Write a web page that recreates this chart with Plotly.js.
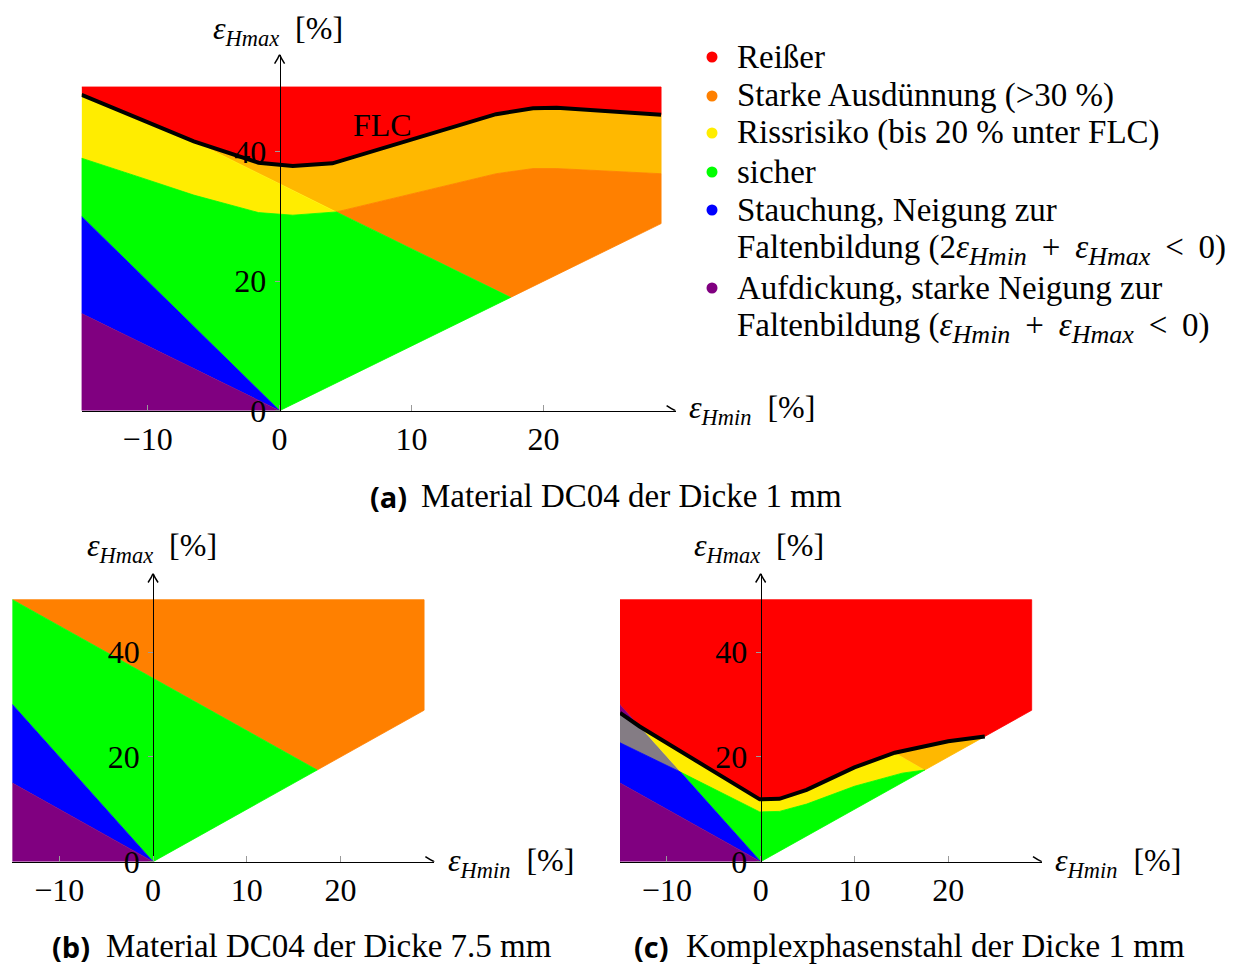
<!DOCTYPE html>
<html>
<head>
<meta charset="utf-8">
<script src="https://cdn.plot.ly/plotly-3.0.1.min.js"></script>
<style>
  html, body { margin: 0; padding: 0; background: #fff; }
  #chart { width: 1242px; height: 965px; }
</style>
</head>
<body>
<div id="chart"></div>
<script>
// ---------------- data (strains in %) ----------------
// common limits of the drawn regions
const regionXMin = -15;
const regionXMax = 28.9;
const regionYTop = 50;
const thinCorner = [17.5, 17.5];       // thinning line (>30 %) meets eps_max = eps_min

// (a) Material DC04, 1 mm
const flcA_x = [-15, -10.2, -6.5, -1.6, 1, 4, 16.4, 19.2, 21, 28.9];
const flcA_y = [48.8, 44.8, 41.6, 38.3, 37.8, 38.2, 45.8, 46.7, 46.8, 45.7];
const lowA_x = [-15, -10.2, -6.5, -1.6, 1, 4.3, 16.4, 19.2, 21, 28.9];   // 20 % below FLC
const lowA_y = [39.0, 35.8, 33.3, 30.6, 30.2, 30.7, 36.6, 37.4, 37.4, 36.6];
const blueTopA = 30;      // 2*emin + emax = 0 at x = -15
const purpleTopA = 15;    // emin + emax = 0 at x = -15

// (b) Material DC04, 7.5 mm
const greenTopLeftB = 50;
const blueTopB = 30;
const purpleTopB = 15;

// (c) Komplexphasenstahl, 1 mm
const flcC_x = [-15, -12.9, -0.1, 2, 4.9, 10, 14.3, 15.1, 20, 23.9];
const flcC_y = [28.4, 25.8, 11.9, 12.0, 13.7, 18.0, 20.8, 21.1, 23.0, 23.9];
const lowC_x = [-15, -8.55, -0.1, 2, 4.9, 10, 15.1, 17.5];
const lowC_y = [22.7, 17.1, 9.5, 9.6, 11.0, 14.4, 16.9, 17.5];
const blueLineTopC = 30;
const purpleTopC = 15;

// axis extents and tick labels
const axisXEnd = 30;
const axisYEnd = 55;
const xTickVals = [-10, 0, 10, 20];
const yTickVals = [0, 20, 40];

// legend
const SUB = s => '<sub><span style="font-size:26px"><i>' + s + '</i></span></sub>';
const GAP = ' \u2009';
const legendLabels = [
  'Reißer',
  'Starke Ausdünnung (&gt;30 %)',
  'Rissrisiko (bis 20 % unter FLC)',
  'sicher',
  'Stauchung, Neigung zur',
  'Faltenbildung (2<i>ε</i>' + SUB('Hmin') + GAP + '+' + GAP + '<i>ε</i>' + SUB('Hmax') + GAP + '&lt;' + GAP + '0)',
  'Aufdickung, starke Neigung zur',
  'Faltenbildung (<i>ε</i>' + SUB('Hmin') + GAP + '+' + GAP + '<i>ε</i>' + SUB('Hmax') + GAP + '&lt;' + GAP + '0)'
];
const captions = [
  ['(a)', 'Material DC04 der Dicke 1 mm'],
  ['(b)', 'Material DC04 der Dicke 7.5 mm'],
  ['(c)', 'Komplexphasenstahl der Dicke 1 mm']
];

// ---------------- colours ----------------
const C = {
  red: '#FF0000', orange: '#FF8000', gold: '#FFB800', yellow: '#FFED00',
  green: '#00FF00', blue: '#0000FF', purple: '#800080', gray: '#847C84'
};

// ---------------- helpers ----------------
const W = 1242, H = 965;
const SERIF = 'Liberation Serif, DejaVu Serif, serif';
const FS = 32;
const FS_TXT = 33;
const rev = a => a.slice().reverse();
const px = p => p / W;
const py = p => 1 - p / H;

function poly(xs, ys, color, ax) {
  return {
    type: 'scatter', x: xs, y: ys, xaxis: 'x' + ax, yaxis: 'y' + ax,
    mode: 'lines', fill: 'toself', fillcolor: color,
    line: { color: color, width: 0.8 }, hoverinfo: 'skip', showlegend: false
  };
}

const traces = [];

// ---- (a)
traces.push(poly([regionXMin, regionXMax].concat(rev(flcA_x)),
                 [regionYTop, regionYTop].concat(rev(flcA_y)), C.red, ''));
traces.push(poly(flcA_x.slice(2).concat(rev(lowA_x.slice(5))),
                 flcA_y.slice(2).concat(rev(lowA_y.slice(5))), C.gold, ''));
traces.push(poly(flcA_x.slice(0, 3).concat(rev(lowA_x.slice(0, 6))),
                 flcA_y.slice(0, 3).concat(rev(lowA_y.slice(0, 6))), C.yellow, ''));
traces.push(poly(lowA_x.slice(5).concat([regionXMax, thinCorner[0]]),
                 lowA_y.slice(5).concat([regionXMax, thinCorner[1]]), C.orange, ''));
traces.push(poly([regionXMin].concat(lowA_x.slice(0, 6), [thinCorner[0], 0]),
                 [blueTopA].concat(lowA_y.slice(0, 6), [thinCorner[1], 0]), C.green, ''));
traces.push(poly([regionXMin, regionXMin, 0], [purpleTopA, blueTopA, 0], C.blue, ''));
traces.push(poly([regionXMin, regionXMin, 0], [0, purpleTopA, 0], C.purple, ''));
traces.push({ type: 'scatter', x: flcA_x, y: flcA_y, xaxis: 'x', yaxis: 'y', mode: 'lines',
  line: { color: '#000', width: 4 }, hoverinfo: 'skip', showlegend: false });

// ---- (b)
traces.push(poly([regionXMin, regionXMax, regionXMax, thinCorner[0]],
                 [regionYTop, regionYTop, regionXMax, thinCorner[1]], C.orange, '2'));
traces.push(poly([regionXMin, regionXMin, thinCorner[0], 0],
                 [blueTopB, greenTopLeftB, thinCorner[1], 0], C.green, '2'));
traces.push(poly([regionXMin, regionXMin, 0], [purpleTopB, blueTopB, 0], C.blue, '2'));
traces.push(poly([regionXMin, regionXMin, 0], [0, purpleTopB, 0], C.purple, '2'));

// ---- (c)
traces.push(poly([regionXMin, regionXMax, regionXMax].concat(rev(flcC_x.slice(1)), [regionXMin]),
                 [regionYTop, regionYTop, regionXMax].concat(rev(flcC_y.slice(1)), [blueLineTopC]), C.red, '3'));
traces.push(poly([regionXMin].concat(flcC_x.slice(0, 2)),
                 [blueLineTopC].concat(flcC_y.slice(0, 2)), C.purple, '3'));
traces.push(poly(flcC_x.slice(0, 2).concat([lowC_x[1], lowC_x[0]]),
                 flcC_y.slice(0, 2).concat([lowC_y[1], lowC_y[0]]), C.gray, '3'));
traces.push(poly(flcC_x.slice(1, 7).concat(rev(lowC_x.slice(1))),
                 flcC_y.slice(1, 7).concat(rev(lowC_y.slice(1))), C.yellow, '3'));
traces.push(poly(flcC_x.slice(6).concat([thinCorner[0]]),
                 flcC_y.slice(6).concat([thinCorner[1]]), C.gold, '3'));
traces.push(poly(lowC_x.slice(1).concat([0]), lowC_y.slice(1).concat([0]), C.green, '3'));
traces.push(poly([regionXMin, lowC_x[0], lowC_x[1], 0], [purpleTopC, lowC_y[0], lowC_y[1], 0], C.blue, '3'));
traces.push(poly([regionXMin, regionXMin, 0], [0, purpleTopC, 0], C.purple, '3'));
traces.push({ type: 'scatter', x: flcC_x, y: flcC_y, xaxis: 'x3', yaxis: 'y3', mode: 'lines',
  line: { color: '#000', width: 4 }, hoverinfo: 'skip', showlegend: false });

// ---------------- axes ----------------
function xAx(p0, p1, yName) {
  return {
    domain: [px(p0), px(p1)], range: [regionXMin, axisXEnd], anchor: yName,
    tickmode: 'array', tickvals: xTickVals, ticks: 'inside', ticklen: 6, tickcolor: '#9a9a9a',
    tickwidth: 1, tickfont: { family: SERIF, size: FS, color: '#000' }, ticklabelstandoff: 0,
    showgrid: false, zeroline: false, showline: true, linecolor: '#000', linewidth: 1.3,
    fixedrange: true
  };
}
function yAx(p0, p1, zeroPx) {
  return {
    domain: [py(p0), py(p1)], range: [0, axisYEnd], anchor: 'free', position: px(zeroPx),
    tickmode: 'array', tickvals: yTickVals, ticks: 'outside', ticklen: 5, tickcolor: '#9a9a9a',
    tickwidth: 1, tickfont: { family: SERIF, size: FS, color: '#000' }, ticklabelstandoff: 2,
    showgrid: false, zeroline: false, showline: true, linecolor: '#000', linewidth: 1.3,
    fixedrange: true
  };
}

// arrow heads at the ends of the axis lines (sized in pixels)
function arrowHeads(xr, yr) {
  const common = { type: 'path', xref: xr, yref: yr, xsizemode: 'pixel', ysizemode: 'pixel',
    line: { color: '#000', width: 1.5 }, layer: 'above' };
  return [
    Object.assign({}, common, { xanchor: axisXEnd, yanchor: 0,
      path: 'M-9,5 Q-3.5,1.3 0,0 Q-3.5,-1.3 -9,-5' }),
    Object.assign({}, common, { xanchor: 0, yanchor: axisYEnd,
      path: 'M-5,-9 Q-1.3,-3.5 0,0 Q1.3,-3.5 5,-9' })
  ];
}

const annotations = [];

function txt(text, xPx, yPx, opts) {
  return Object.assign({ text: text, xref: 'paper', yref: 'paper', x: px(xPx), y: py(yPx),
    xanchor: 'left', yanchor: 'middle', showarrow: false,
    font: { family: SERIF, size: FS, color: '#000' } }, opts || {});
}

const yTitle = '<i>ε</i><sub><i>Hmax</i></sub>  [%]';
const xTitle = '<i>ε</i><sub><i>Hmin</i></sub>  [%]';
annotations.push(txt(yTitle, 211, 30));
annotations.push(txt(xTitle, 687, 410));
annotations.push(txt(yTitle, 85, 547));
annotations.push(txt(xTitle, 446, 862));
annotations.push(txt(yTitle, 692, 547));
annotations.push(txt(xTitle, 1053, 862));

// FLC label
annotations.push({ text: 'FLC', xref: 'x', yref: 'y', x: 7.8, y: 44.1, showarrow: false,
  xanchor: 'center', yanchor: 'middle', font: { family: SERIF, size: FS, color: '#000' } });

// legend text
const legendY = [57, 96, 133, 172, 210, 250, 288, 328];
legendLabels.forEach((t, i) => annotations.push(txt(t, 735, legendY[i],
  { font: { family: SERIF, size: FS_TXT, color: '#000' } })));

// captions
const capPos = [[368, 419, 496], [50, 104, 946], [632, 684, 946]];
captions.forEach((c, i) => {
  annotations.push(txt('<b>' + c[0] + '</b>', capPos[i][0], capPos[i][2],
    { font: { family: 'Open Sans, DejaVu Sans, sans-serif', size: 29, color: '#000' } }));
  annotations.push(txt(c[1], capPos[i][1], capPos[i][2],
    { font: { family: SERIF, size: FS_TXT, color: '#000' } }));
});

// legend dots
const dotColors = [C.red, C.orange, C.yellow, C.green, C.blue, C.purple];
const dotY = [57, 96, 133, 172, 210, 288];
const shapes = dotColors.map((col, i) => ({
  type: 'circle', xref: 'paper', yref: 'paper',
  x0: px(712 - 5.5), x1: px(712 + 5.5), y0: py(dotY[i] + 5.5), y1: py(dotY[i] - 5.5),
  fillcolor: col, line: { width: 0 }
})).concat(arrowHeads('x', 'y'), arrowHeads('x2', 'y2'), arrowHeads('x3', 'y3'));

const layout = {
  width: W, height: H, margin: { l: 0, r: 0, t: 0, b: 0 },
  paper_bgcolor: '#fff', plot_bgcolor: 'rgba(0,0,0,0)', showlegend: false,
  xaxis: xAx(81.6, 675.6, 'y'),
  yaxis: yAx(410.7, 54.6, 279.6),
  xaxis2: xAx(12.4, 434.4, 'y2'),
  yaxis2: yAx(861.7, 573.5, 153.1),
  xaxis3: xAx(620.0, 1042.0, 'y3'),
  yaxis3: yAx(861.7, 573.5, 760.7),
  annotations: annotations,
  shapes: shapes
};

Plotly.newPlot('chart', traces, layout, { displayModeBar: false, staticPlot: true });
</script>
</body>
</html>
